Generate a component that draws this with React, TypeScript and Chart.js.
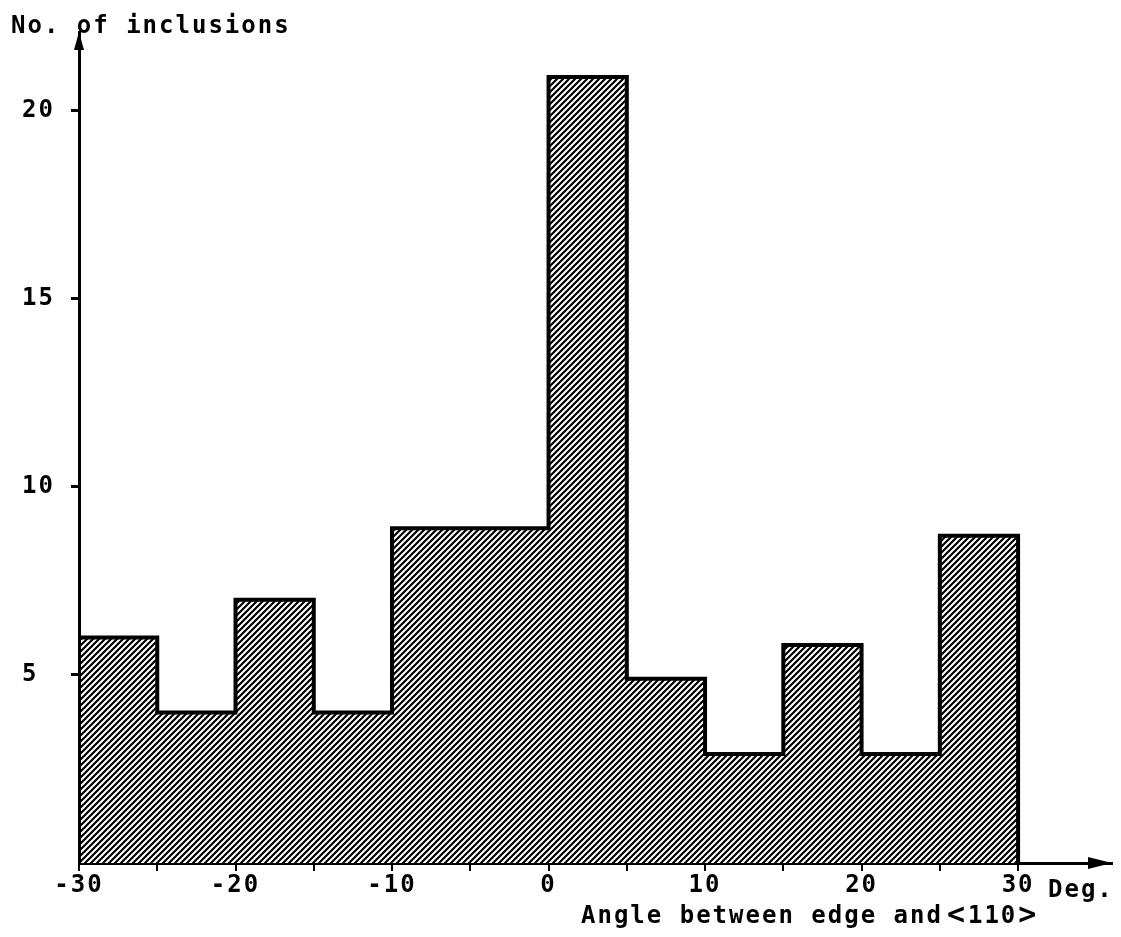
import React, { useEffect, useRef } from "react";
import { Chart, registerables } from "chart.js";

Chart.register(...registerables);

// Histogram bins (degrees) and counts
const binEdges = [-30, -25, -20, -15, -10, -5, 0, 5, 10, 15, 20, 25, 30];
const counts = [6, 4, 7, 4, 8.9, 8.9, 20.9, 4.9, 2.9, 5.8, 2.9, 8.7];
const xTickValues = [-30, -25, -20, -15, -10, -5, 0, 5, 10, 15, 20, 25, 30];
const xLabelValues = [-30, -20, -10, 0, 10, 20, 30];
const yTickValues = [5, 10, 15, 20];

const yTitle = "No. of inclusions";
const xUnit = "Deg.";
const xTitleMain = "Angle between edge and";
const xTitleTail = ["<", "110", ">"];

const FONT = "'DejaVu Sans Mono', monospace";

function makeHatch(): CanvasPattern | string {
  const t = document.createElement("canvas");
  t.width = 6;
  t.height = 6;
  const c = t.getContext("2d");
  if (!c) return "#888";
  c.fillStyle = "#fff";
  c.fillRect(0, 0, 6, 6);
  c.strokeStyle = "#000";
  c.lineWidth = 2.2;
  c.lineCap = "square";
  c.beginPath();
  c.moveTo(0, 6);
  c.lineTo(6, 0);
  c.moveTo(-1, 1);
  c.lineTo(1, -1);
  c.moveTo(5, 7);
  c.lineTo(7, 5);
  c.stroke();
  const p = c.createPattern(t, "repeat");
  return p || "#888";
}

const decorPlugin = {
  id: "decor",
  beforeDraw(chart: any) {
    chart.ctx.letterSpacing = "2px";
  },
  afterDraw(chart: any) {
    const ctx = chart.ctx as CanvasRenderingContext2D;
    const { left, top, right, bottom } = chart.chartArea;
    ctx.save();
    ctx.fillStyle = "#000";
    // y-axis arrowhead
    ctx.beginPath();
    ctx.moveTo(left, top);
    ctx.lineTo(left - 5, top + 18);
    ctx.lineTo(left + 5, top + 18);
    ctx.closePath();
    ctx.fill();
    // x-axis arrowhead
    ctx.beginPath();
    ctx.moveTo(right, bottom);
    ctx.lineTo(right - 24, bottom - 6);
    ctx.lineTo(right - 24, bottom + 6);
    ctx.closePath();
    ctx.fill();

    (ctx as any).letterSpacing = "2px";
    ctx.textBaseline = "alphabetic";
    ctx.textAlign = "left";
    ctx.font = `bold 24px ${FONT}`;
    ctx.fillText(yTitle, 11, 33);
    ctx.fillText(xUnit, right - 64, bottom + 34);

    let x = 581;
    const y = 923;
    ctx.fillText(xTitleMain, x, y);
    x += ctx.measureText(xTitleMain).width + 4;
    ctx.font = `bold 30px ${FONT}`;
    ctx.fillText(xTitleTail[0], x, y + 1);
    x += ctx.measureText(xTitleTail[0]).width + 1;
    ctx.font = `bold 24px ${FONT}`;
    ctx.fillText(xTitleTail[1], x, y);
    x += ctx.measureText(xTitleTail[1]).width + 1;
    ctx.font = `bold 30px ${FONT}`;
    ctx.fillText(xTitleTail[2], x, y + 1);
    ctx.restore();
  },
};

export default function App() {
  const ref = useRef<HTMLCanvasElement | null>(null);

  useEffect(() => {
    if (!ref.current) return;
    const points = [
      { x: binEdges[0], y: 0 },
      ...counts.map((c, i) => ({ x: binEdges[i], y: c })),
      { x: binEdges[binEdges.length - 1], y: counts[counts.length - 1] },
      { x: binEdges[binEdges.length - 1], y: 0 },
    ];
    const tickFont = { family: FONT, size: 24, weight: "bold" as const };
    const chart = new Chart(ref.current, {
      type: "line",
      data: {
        datasets: [
          {
            data: points,
            stepped: true,
            borderColor: "#000",
            borderWidth: 4,
            borderJoinStyle: "miter",
            backgroundColor: makeHatch() as any,
            fill: "origin",
            pointRadius: 0,
            tension: 0,
          } as any,
        ],
      },
      options: {
        animation: false,
        responsive: false,
        devicePixelRatio: 1,
        layout: { padding: { left: 22, right: 9, top: 32, bottom: 0 } },
        plugins: {
          legend: { display: false },
          tooltip: { enabled: false },
          title: { display: false },
        },
        scales: {
          x: {
            type: "linear",
            min: -30,
            max: 36,
            afterBuildTicks: (s: any) => {
              s.ticks = xTickValues.map((v) => ({ value: v }));
            },
            afterFit: (s: any) => {
              s.height = 74;
            },
            ticks: {
              autoSkip: false,
              maxRotation: 0,
              color: "#000",
              font: tickFont,
              padding: 0,
              callback: (v: any) => (xLabelValues.includes(Number(v)) ? String(v) : ""),
            },
            grid: {
              drawOnChartArea: false,
              drawTicks: true,
              tickLength: 8,
              color: "#000",
              lineWidth: 2,
            },
            border: { display: true, color: "#000", width: 3 },
          },
          y: {
            type: "linear",
            min: 0,
            max: 22.1,
            afterBuildTicks: (s: any) => {
              s.ticks = yTickValues.map((v) => ({ value: v }));
            },
            afterFit: (s: any) => {
              s.width = 57;
            },
            ticks: {
              color: "#000",
              font: tickFont,
              crossAlign: "far",
              padding: 6,
            },
            grid: {
              drawOnChartArea: false,
              drawTicks: true,
              tickLength: 8,
              color: "#000",
              lineWidth: 3,
            },
            border: { display: true, color: "#000", width: 3 },
          },
        },
      } as any,
      plugins: [decorPlugin],
    });
    return () => chart.destroy();
  }, []);

  return (
    <div style={{ position: "absolute", left: 0, top: 0, width: 1121, height: 937, background: "#fff" }}>
      <canvas ref={ref} width={1121} height={937} style={{ display: "block" }} />
    </div>
  );
}
